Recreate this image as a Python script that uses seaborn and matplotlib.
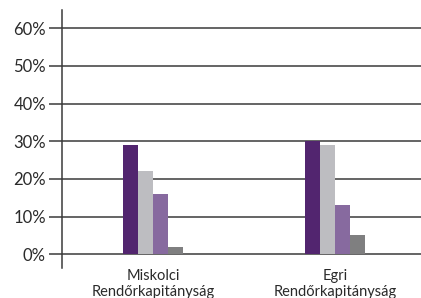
import pandas as pd
import matplotlib
matplotlib.use("Agg")
import matplotlib.pyplot as plt
import seaborn as sns
from matplotlib.ticker import FuncFormatter

# values (percent)
categories = ["Miskolci\nRendőrkapitányság", "Egri\nRendőrkapitányság"]
series = ["1", "2", "3", "4"]
values = [
    [29, 22, 16, 2],   # Miskolci
    [30, 29, 13, 5],   # Egri
]
colors = ["#52256f", "#bdbdc1", "#876a9f", "#7f7f80"]
yticks = [0, 10, 20, 30, 40, 50, 60]

rows = []
for cat, vals in zip(categories, values):
    for s, v in zip(series, vals):
        rows.append({"cat": cat, "series": s, "value": v})
df = pd.DataFrame(rows)

sns.set_style("white")
plt.rcParams["font.family"] = ["Lato", "DejaVu Sans"]

fig = plt.figure(figsize=(4.21, 2.98), dpi=100)
ax = fig.add_axes([0.147, 0.10, 0.853, 0.866])

sns.barplot(data=df, x="cat", y="value", hue="series", palette=colors,
            width=0.33, dodge=True, saturation=1, legend=False,
            linewidth=0, ax=ax, zorder=3)

ax.set_ylim(-3.7, 64.8)
ax.set_xlim(-0.5, 1.47)
ax.set_yticks(yticks)
ax.yaxis.set_major_formatter(FuncFormatter(lambda v, p: f"{v:.0f}%"))
ax.yaxis.grid(True, color="#3a3a3a", linewidth=1.1, zorder=1)
ax.tick_params(axis="y", direction="out", length=9.5, width=1.1, color="#3a3a3a",
               labelsize=12, pad=2, labelcolor="#2a2a2a", left=True)
ax.tick_params(axis="x", length=0, labelsize=10.5, pad=0.5, labelcolor="#2a2a2a")

for side in ["top", "right", "bottom"]:
    ax.spines[side].set_visible(False)
ax.spines["left"].set_color("#3a3a3a")
ax.spines["left"].set_linewidth(1.1)

ax.set_xlabel("")
ax.set_ylabel("")

fig.savefig("out.png", dpi=100)
